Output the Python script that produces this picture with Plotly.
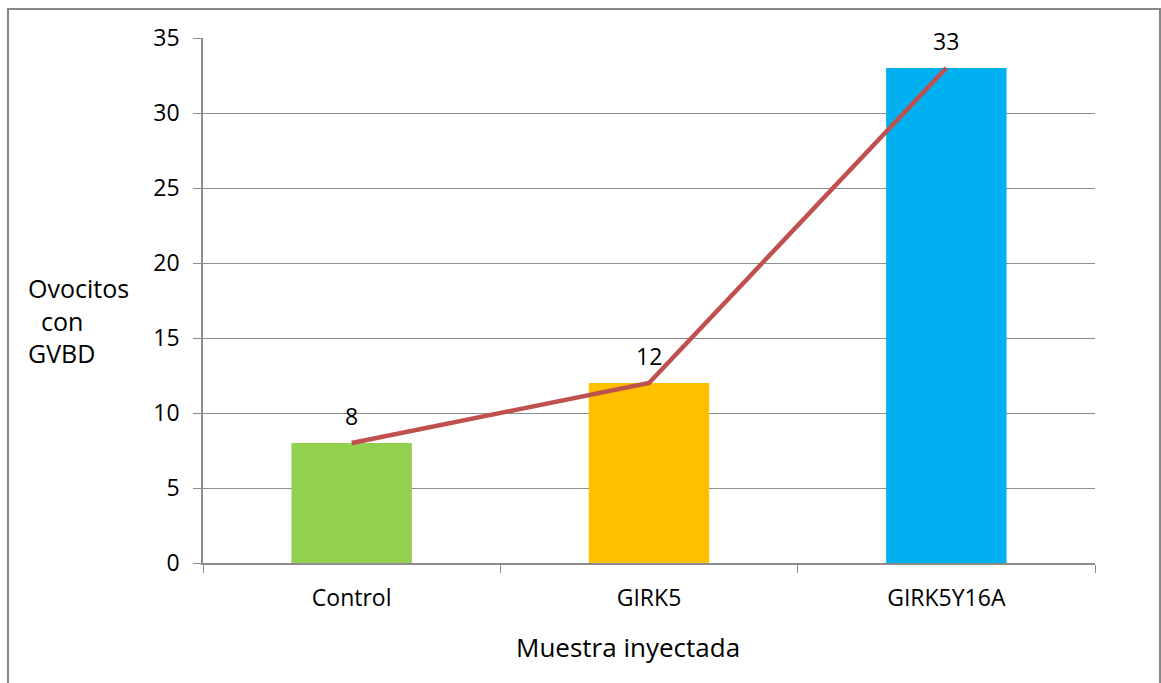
import plotly.graph_objects as go

# Oocytes showing GVBD per injected sample
muestras = ["Control", "GIRK5", "GIRK5Y16A"]
ovocitos_gvbd = [8, 12, 33]
colores_barras = ["#92D050", "#FFC000", "#00B0F0"]
y_ticks = [0, 5, 10, 15, 20, 25, 30, 35]

FONT = "Open Sans"
GRID = "#8C8C8C"
FS = 23

fig = go.Figure()

fig.add_trace(go.Bar(
    x=muestras, y=ovocitos_gvbd,
    marker=dict(color=colores_barras, line=dict(width=0)),
    width=0.405, showlegend=False, hoverinfo="skip",
))

fig.add_trace(go.Scatter(
    x=muestras, y=ovocitos_gvbd, mode="lines",
    line=dict(color="#C0504D", width=4.5),
    showlegend=False, hoverinfo="skip",
))

# Value labels above each point of the line
for m, v in zip(muestras, ovocitos_gvbd):
    fig.add_annotation(x=m, y=v, text=str(v), showarrow=False,
                       yshift=27, font=dict(family=FONT, size=FS, color="#000000"))

# Y-axis title, written horizontally on three lines
fig.add_annotation(xref="paper", yref="paper", x=-0.14, y=0.461,
                   text="Ovocitos<br>  con<br>GVBD", showarrow=False, align="left",
                   xanchor="center", yanchor="middle",
                   font=dict(family=FONT, size=FS + 2, color="#000000"))

# X-axis title
fig.add_annotation(xref="paper", yref="paper", x=0.4765, y=-0.16,
                   text="Muestra inyectada", showarrow=False,
                   xanchor="center", yanchor="middle",
                   font=dict(family=FONT, size=FS + 3, color="#000000"))

# Outer chart frame
fig.add_shape(type="rect", xref="paper", yref="paper",
              x0=-0.2186, x1=1.0729, y0=-0.25, y1=1.0552,
              line=dict(color="#868686", width=2), fillcolor="rgba(0,0,0,0)")

fig.update_layout(
    width=1161, height=683,
    margin=dict(l=203, r=66, t=38, b=120),
    paper_bgcolor="white", plot_bgcolor="white",
    font=dict(family=FONT, size=FS, color="#000000"),
    bargap=0.595,
    xaxis=dict(
        type="category", tickson="boundaries", ticks="outside", ticklen=8,
        tickcolor=GRID, showline=True, linecolor=GRID, linewidth=1.5,
        showgrid=False, tickfont=dict(family=FONT, size=FS),
        ticklabelstandoff=14,
        range=[-0.5, 2.5],
    ),
    yaxis=dict(
        range=[0, 35], tickvals=y_ticks, ticks="outside", ticklen=8,
        tickcolor=GRID, showline=True, linecolor=GRID, linewidth=1.5,
        showgrid=True, gridcolor=GRID, gridwidth=1, zeroline=False,
        tickfont=dict(family=FONT, size=FS), ticklabelstandoff=9,
    ),
)

fig.write_html("out.html")
